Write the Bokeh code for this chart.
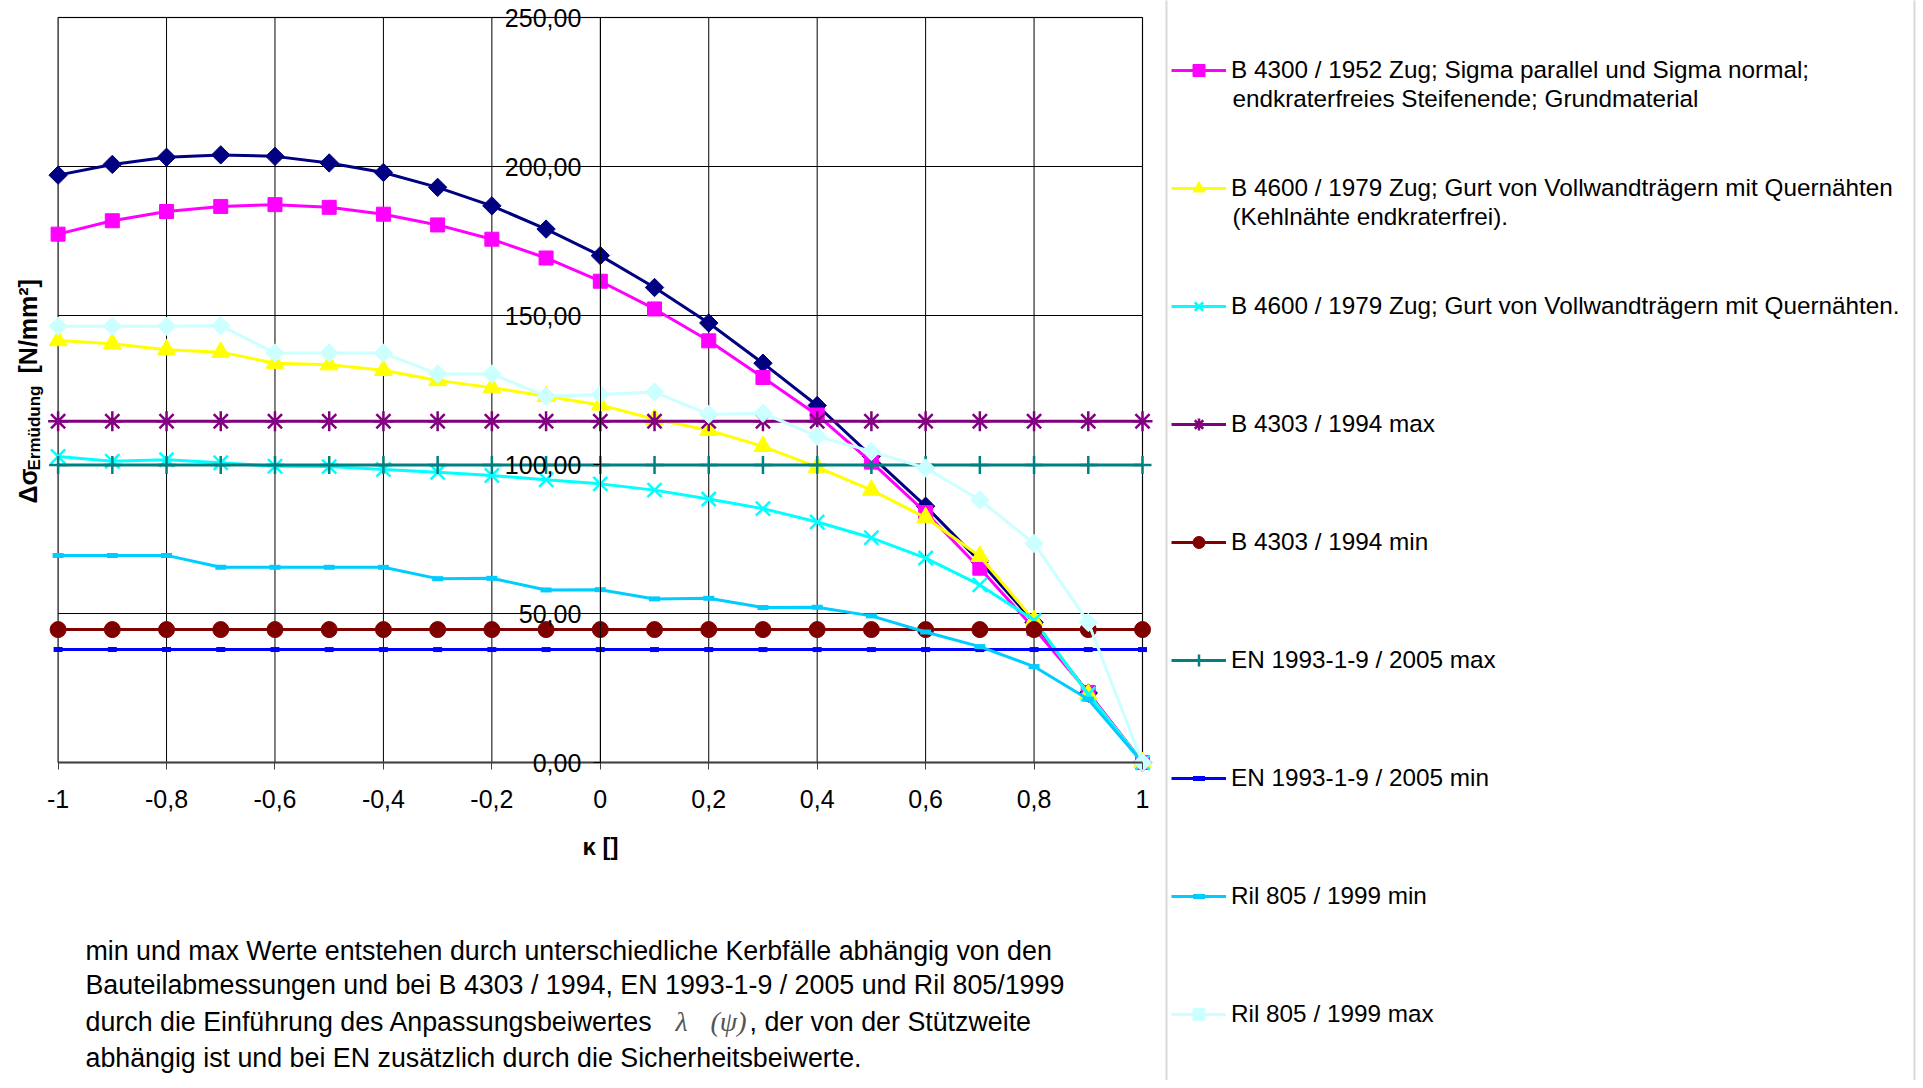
import math
from bokeh.plotting import figure
from bokeh.models import (Range1d, LinearAxis, FixedTicker, Legend, LegendItem,
                          Label, BoxAnnotation, CustomJSTickFormatter)
from bokeh.embed import file_html
from bokeh.resources import INLINE

# ---------------- data ----------------
kappa = [-1.0, -0.9, -0.8, -0.7, -0.6, -0.5, -0.4, -0.3, -0.2, -0.1, 0.0,
         0.1, 0.2, 0.3, 0.4, 0.5, 0.6, 0.7, 0.8, 0.9, 1.0]

navy_series = [197.1, 200.7, 203.1, 203.9, 203.4, 201.2, 198.0, 193.0, 186.8, 179.0, 170.1,
               159.4, 147.5, 134.0, 119.8, 102.8, 86.0, 67.5, 47.0, 23.3, 0.0]
b4300_1952 = [177.3, 181.8, 184.9, 186.6, 187.2, 186.3, 184.0, 180.4, 175.6, 169.3, 161.5,
              152.2, 141.5, 129.2, 116.6, 100.8, 83.9, 65.2, 45.0, 23.5, 0.0]
b4600_kehl = [141.6, 140.5, 138.5, 137.7, 134.0, 133.5, 131.6, 128.2, 125.8, 122.9, 120.0,
              115.2, 111.5, 106.1, 99.1, 91.4, 82.2, 69.2, 47.7, 22.9, 0.0]
b4600_quer = [102.7, 101.1, 101.6, 100.6, 99.4, 99.3, 98.3, 97.4, 96.3, 94.9, 93.5,
              91.4, 88.4, 85.2, 80.7, 75.4, 68.6, 59.6, 47.7, 22.9, 0.0]
b4303_max = [114.5, 114.5, 114.5, 114.5, 114.5, 114.5, 114.5, 114.5, 114.5, 114.5, 114.5,
             114.5, 114.5, 114.5, 114.5, 114.5, 114.5, 114.5, 114.5, 114.5, 114.5]
b4303_min = [44.6, 44.6, 44.6, 44.6, 44.6, 44.6, 44.6, 44.6, 44.6, 44.6, 44.6,
             44.6, 44.6, 44.6, 44.6, 44.6, 44.6, 44.6, 44.6, 44.6, 44.6]
en1993_max = [99.8, 99.8, 99.8, 99.8, 99.8, 99.8, 99.8, 99.8, 99.8, 99.8, 99.8,
              99.8, 99.8, 99.8, 99.8, 99.8, 99.8, 99.8, 99.8, 99.8, 99.8]
en1993_min = [37.9, 37.9, 37.9, 37.9, 37.9, 37.9, 37.9, 37.9, 37.9, 37.9, 37.9,
              37.9, 37.9, 37.9, 37.9, 37.9, 37.9, 37.9, 37.9, 37.9, 37.9]
ril805_min = [69.5, 69.5, 69.5, 65.5, 65.5, 65.5, 65.5, 61.7, 61.8, 57.9, 58.0,
              54.9, 55.1, 52.0, 52.1, 49.2, 43.8, 38.9, 32.2, 21.2, 0.0]
ril805_max = [146.4, 146.4, 146.4, 146.6, 137.4, 137.4, 137.4, 130.4, 130.4, 122.9, 123.5,
              124.3, 116.8, 117.2, 109.5, 104.4, 98.8, 88.1, 73.5, 47.0, 0.0]

x_ticks = [-1.0, -0.8, -0.6, -0.4, -0.2, 0.0, 0.2, 0.4, 0.6, 0.8, 1.0]
x_tick_labels = ["-1", "-0,8", "-0,6", "-0,4", "-0,2", "0", "0,2", "0,4", "0,6", "0,8", "1"]
y_ticks = [0, 50, 100, 150, 200, 250]
y_tick_labels = ["0,00", "50,00", "100,00", "150,00", "200,00", "250,00"]

legend_labels = [
    "B 4300 / 1952 Zug; Sigma parallel und Sigma normal;",
    "B 4600 / 1979 Zug; Gurt von Vollwandträgern mit Quernähten",
    "B 4600 / 1979 Zug; Gurt von Vollwandträgern mit Quernähten.",
    "B 4303 / 1994 max",
    "B 4303 / 1994 min",
    "EN 1993-1-9 / 2005 max",
    "EN 1993-1-9 / 2005 min",
    "Ril 805 / 1999 min",
    "Ril 805 / 1999 max",
]
legend_second_lines = ["endkraterfreies Steifenende; Grundmaterial", "(Kehlnähte endkraterfrei)."]

note_lines = [
    "min und max Werte entstehen durch unterschiedliche Kerbfälle abhängig von den",
    "Bauteilabmessungen und bei B 4303 / 1994, EN 1993-1-9 / 2005 und Ril 805/1999",
    "durch die Einführung des Anpassungsbeiwertes",
    "abhängig ist und bei EN zusätzlich durch die Sicherheitsbeiwerte.",
]
note_math = ["λ", "(ψ)"]
note_line3_tail = ", der von der Stützweite"

# ---------------- layout ----------------
W, H = 1918, 1080
# pixel box of the plotting area inside the canvas
PL, PR, PT, PB = 57.6, 1142.0, 17.0, 762.0
FONT = "Liberation Sans"

XMIN, XMAX = x_ticks[0], x_ticks[-1]
YMIN, YMAX = y_ticks[0], y_ticks[-1]
xs = (PR - PL) / (XMAX - XMIN)
ys_ = (PB - PT) / (YMAX - YMIN)
x_range = Range1d(XMIN - PL / xs, XMAX + (W - PR) / xs)
y_range = Range1d(YMIN - (H - PB) / ys_, YMAX + PT / ys_)

p = figure(width=W, height=H, output_backend="svg", toolbar_location=None, title=None,
           x_range=x_range, y_range=y_range,
           x_axis_type=None, y_axis_type=None, min_border=0)
p.outline_line_color = None
p.background_fill_color = "white"
p.border_fill_color = "white"


def sy(fig_y):
    """canvas pixel row -> screen units (measured up from the bottom)"""
    return H - fig_y


# grid lines from the tick lists
p.segment(x0=x_ticks, y0=[YMIN] * len(x_ticks), x1=x_ticks, y1=[YMAX] * len(x_ticks),
          line_color="black", line_width=1)
p.segment(x0=[XMIN] * len(y_ticks), y0=y_ticks, x1=[XMAX] * len(y_ticks), y1=y_ticks,
          line_color="black", line_width=1)

xt = FixedTicker(ticks=x_ticks, minor_ticks=[])
yt = FixedTicker(ticks=y_ticks, minor_ticks=[])
fmt_code = """
let best = 0; let d = Infinity;
for (let i = 0; i < t.length; i++) { const e = Math.abs(t[i] - tick); if (e < d) { d = e; best = i } }
return l[best];
"""
xfmt = CustomJSTickFormatter(args=dict(t=x_ticks, l=x_tick_labels), code=fmt_code)
yfmt = CustomJSTickFormatter(args=dict(t=y_ticks, l=y_tick_labels), code=fmt_code)

# ---------------- series ----------------
series = [
    (navy_series, "#000080", "square", 13, math.pi / 4, None),
    (b4300_1952, "#FF00FF", "square", 14, 0, 0),
    (b4600_kehl, "#FFFF00", "triangle", 18, 0, 1),
    (b4600_quer, "#00FFFF", "x", 20, 0, 2),
    (b4303_max, "#800080", "asterisk", 20, 0, 3),
    (b4303_min, "#800000", "circle", 16, 0, 4),
    (en1993_max, "#008080", "cross", 18, 0, 5),
    (en1993_min, "#0000FF", "dash", 9, 0, 6),
    (ril805_min, "#00CCFF", "dash", 11, 0, 7),
    (ril805_max, "#CCFFFF", "square", 13, math.pi / 4, 8),
]
items = [None] * len(legend_labels)
for yv, col, mk, sz, ang, li in series:
    lr = p.line(kappa, yv, line_color=col, line_width=3)
    lw = 2.5 if mk in ("x", "asterisk", "cross") else (5 if mk == "dash" else 1)
    sr = p.scatter(kappa, yv, marker=mk, size=sz, angle=ang, fill_color=col, line_color=col,
                   line_width=lw)
    if li is not None:
        items[li] = LegendItem(label=legend_labels[li], renderers=[lr, sr])

# plot border
p.add_layout(BoxAnnotation(left=XMIN, right=XMAX, bottom=YMIN, top=YMAX,
                           fill_alpha=0, line_color="#808080", line_width=2, level="underlay"))

xaxis = LinearAxis(ticker=xt, formatter=xfmt, fixed_location=YMIN, bounds=(XMIN, XMAX),
                   axis_line_color="#404040", axis_line_width=2,
                   major_tick_line_color="#404040", major_tick_out=7, major_tick_in=0,
                   minor_tick_line_color=None,
                   major_label_text_font=FONT, major_label_text_font_size="25px",
                   major_label_text_color="black", major_label_standoff=20)
p.add_layout(xaxis, "below")
yaxis = LinearAxis(ticker=yt, formatter=yfmt, fixed_location=0, bounds=(YMIN, YMAX),
                   axis_line_color="black", axis_line_width=1,
                   major_tick_line_color="black", major_tick_out=7, major_tick_in=0,
                   minor_tick_line_color=None,
                   major_label_text_font=FONT, major_label_text_font_size="25px",
                   major_label_text_color="black", major_label_standoff=12)
p.add_layout(yaxis, "left")

# ---------------- legend ----------------
PITCH_H, SPACING, PAD = 30, 88, 6
first_center = 64.0
leg_top = first_center - PITCH_H / 2 - PAD
leg_h = 2 * PAD + len(items) * PITCH_H + (len(items) - 1) * SPACING
leg_bottom = leg_top + leg_h
legend = Legend(items=items, location=(1171, sy(leg_bottom)),
                label_text_font=FONT, label_text_font_size="24.3px", label_text_color="black",
                glyph_width=55, glyph_height=PITCH_H, label_height=PITCH_H, label_standoff=5,
                spacing=SPACING, padding=PAD, margin=0,
                border_line_color=None, background_fill_alpha=0)
p.add_layout(legend)

# legend frame (runs past the page edges as in the reference)
p.add_layout(BoxAnnotation(left=1166, right=1914, top=sy(-40), bottom=sy(H + 40),
                           left_units="screen", right_units="screen",
                           top_units="screen", bottom_units="screen",
                           fill_alpha=0, line_color="#808080", line_width=2))

for i, cy in enumerate([97.5, 215.5]):
    p.add_layout(Label(x=1232, y=sy(cy), x_units="screen", y_units="screen",
                       text=legend_second_lines[i],
                       text_font=FONT, text_font_size="24.3px", text_baseline="middle",
                       text_align="left", text_color="black"))

# ---------------- axis titles ----------------
ytitle_parts = [("Δσ", 27, 503, "25px"), ("Ermüdung", 33.5, 470, "17px"), ("[N/mm²]", 27, 373, "25px")]
for txt, xx, yy, fs in ytitle_parts:
    p.add_layout(Label(x=xx, y=sy(yy), x_units="screen", y_units="screen", text=txt, angle=math.pi / 2,
                       text_font=FONT, text_font_size=fs, text_font_style="bold",
                       text_align="left", text_baseline="middle", text_color="black"))
p.add_layout(Label(x=600, y=sy(846), x_units="screen", y_units="screen", text="κ []",
                   text_font=FONT, text_font_size="24px", text_font_style="bold",
                   text_align="center", text_baseline="middle", text_color="black"))

# ---------------- note text ----------------
note_baselines = [950, 984, 1021, 1057]
for txt, by in zip(note_lines, note_baselines):
    p.add_layout(Label(x=85, y=sy(by), x_units="screen", y_units="screen", text=txt,
                       text_font=FONT, text_font_size="26.8px", text_baseline="alphabetic",
                       text_align="left", text_color="black"))
for txt, xx in zip(note_math, [675, 710]):
    p.add_layout(Label(x=xx, y=sy(note_baselines[2]), x_units="screen", y_units="screen", text=txt,
                       text_font="Liberation Serif", text_font_size="28px", text_font_style="italic",
                       text_baseline="alphabetic", text_align="left", text_color="#555555"))
p.add_layout(Label(x=749, y=sy(note_baselines[2]), x_units="screen", y_units="screen",
                   text=note_line3_tail, text_font=FONT, text_font_size="26.8px",
                   text_baseline="alphabetic", text_align="left", text_color="black"))

open("out.html", "w").write(file_html(p, INLINE))
